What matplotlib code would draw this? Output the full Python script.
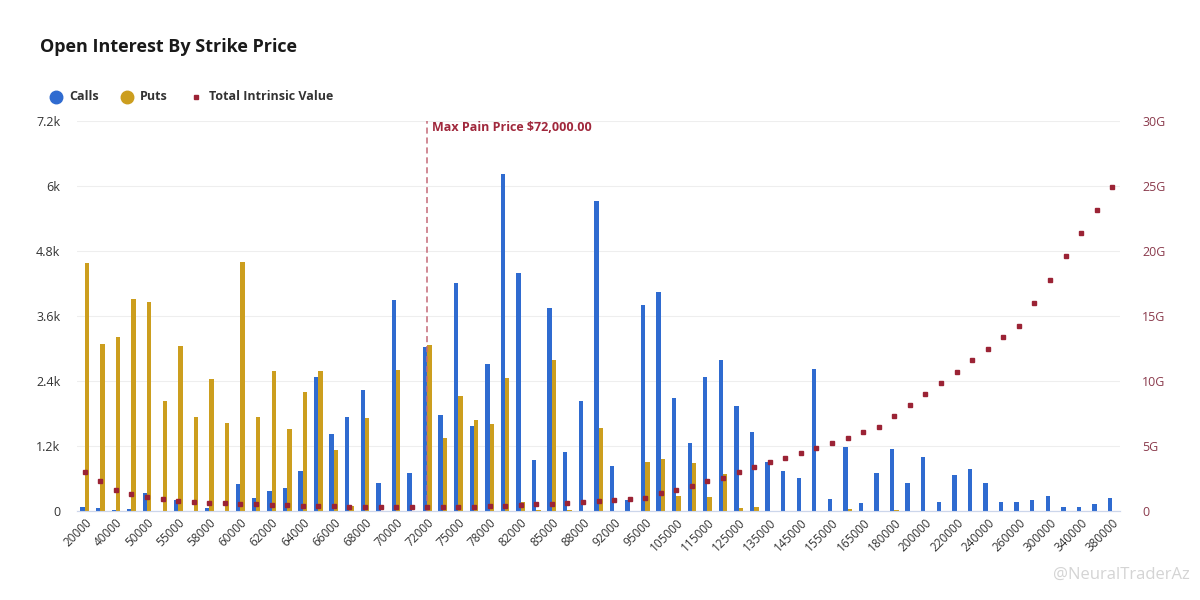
import matplotlib
matplotlib.use("Agg")
import matplotlib.pyplot as plt
from matplotlib.lines import Line2D
import numpy as np

plt.rcParams['font.family'] = ['Open Sans', 'DejaVu Sans']

strikes = ["20000", "30000", "40000", "45000", "50000", "52000", "55000", "56000", "58000", "59000",
           "60000", "61000", "62000", "63000", "64000", "65000", "66000", "67000", "68000", "69000",
           "70000", "71000", "72000", "74000", "75000", "76000", "78000", "80000", "82000", "84000",
           "85000", "86000", "88000", "90000", "92000", "94000", "95000", "100000", "105000", "110000",
           "115000", "120000", "125000", "130000", "135000", "140000", "145000", "150000", "155000", "160000",
           "165000", "170000", "180000", "190000", "200000", "210000", "220000", "230000", "240000", "250000",
           "260000", "280000", "300000", "320000", "340000", "360000", "380000"]

calls = [70, 60, 20, 30, 330, 0, 210, 0, 50, 0,
         500, 240, 370, 420, 740, 2480, 1420, 1740, 2230, 520,
         3900, 700, 3030, 1770, 4210, 1570, 2720, 6220, 4390, 950,
         3750, 1090, 2030, 5730, 830, 200, 3810, 4050, 2090, 1260,
         2480, 2790, 1930, 1460, 910, 740, 610, 2620, 230, 1180,
         150, 710, 1140, 520, 1000, 160, 660, 770, 520, 160,
         160, 200, 270, 80, 80, 130, 240]

puts = [4570, 3080, 3210, 3910, 3860, 2030, 3050, 1730, 2440, 1620,
        4600, 1730, 2580, 1510, 2200, 2580, 1130, 100, 1720, 0,
        2600, 0, 3060, 1350, 2120, 1680, 1600, 2460, 170, 20,
        2790, 20, 0, 1530, 0, 0, 900, 960, 280, 890,
        260, 680, 50, 70, 0, 0, 0, 0, 0, 30,
        0, 0, 20, 0, 0, 0, 0, 0, 0, 0,
        0, 0, 0, 0, 0, 0, 0]

intrinsic_g = [3.02, 2.33, 1.64, 1.31, 1.10, 0.95, 0.79, 0.69, 0.62, 0.60,
               0.54, 0.52, 0.45, 0.43, 0.41, 0.39, 0.37, 0.34, 0.32, 0.31,
               0.30, 0.30, 0.30, 0.31, 0.32, 0.33, 0.36, 0.38, 0.44, 0.52,
               0.56, 0.62, 0.72, 0.80, 0.88, 0.95, 1.03, 1.36, 1.64, 1.95,
               2.28, 2.56, 2.97, 3.36, 3.74, 4.10, 4.49, 4.87, 5.26, 5.65,
               6.10, 6.48, 7.31, 8.18, 9.00, 9.87, 10.70, 11.64, 12.50, 13.40,
               14.26, 16.00, 17.80, 19.60, 21.40, 23.15, 24.95]

max_pain_strike = "72000"
left_ticks = [0, 1200, 2400, 3600, 4800, 6000, 7200]
left_tick_labels = ["0", "1.2k", "2.4k", "3.6k", "4.8k", "6k", "7.2k"]
right_ticks = [0, 5, 10, 15, 20, 25, 30]
right_tick_labels = ["0", "5G", "10G", "15G", "20G", "25G", "30G"]

CALL_C = "#2f6bd0"
PUT_C = "#cc9e1e"
IV_C = "#9b2335"
TXT = "#333333"

fig = plt.figure(figsize=(12, 6), dpi=100)
ax = fig.add_axes([77 / 1200, 89 / 600, (1120 - 77) / 1200, 390 / 600])
ax2 = ax.twinx()

x = np.arange(len(strikes))
w = 0.28
ax.bar(x - 0.14, calls, width=w, color=CALL_C, zorder=3)
ax.bar(x + 0.14, puts, width=w, color=PUT_C, zorder=3)
ax2.plot(x, intrinsic_g, linestyle="none", marker="s", markersize=3.0,
         color=IV_C, zorder=4)

ax.set_xlim(-0.5, len(strikes) - 0.5)
ax.set_ylim(0, 7200)
ax2.set_ylim(0, 30)

ax.set_yticks(left_ticks)
ax.set_yticklabels(left_tick_labels, color=TXT, fontsize=9)
ax2.set_yticks(right_ticks)
ax2.set_yticklabels(right_tick_labels, color="#8a3a4c", fontsize=9)

ax.set_xticks(x[::2])
ax.set_xticklabels(strikes[::2], rotation=45, ha="right", rotation_mode="anchor",
                   fontsize=8.5, color=TXT)

ax.grid(axis="y", color="#eeeeee", linewidth=0.8, zorder=0)
ax.set_axisbelow(True)
for a in (ax, ax2):
    for s in ("top", "left", "right"):
        a.spines[s].set_visible(False)
    a.spines["bottom"].set_color("#ccd6eb")
    a.tick_params(length=0)
ax.tick_params(axis="y", pad=12)
ax.tick_params(axis="x", pad=4)
ax2.tick_params(axis="y", pad=16)

mp = strikes.index(max_pain_strike)
ax.axvline(mp, color="#c46a78", linestyle=(0, (4, 2.5)), linewidth=1.1, zorder=5)
ax.text(mp + 0.3, 7080, "Max Pain Price $72,000.00", color="#a0283c", fontsize=9,
        fontweight="bold", va="center", ha="left")

fig.text(40 / 1200, 1 - 47 / 600, "Open Interest By Strike Price", fontsize=13,
         fontweight="bold", color="#1a1a1a", va="center", ha="left")

ly = 1 - 97 / 600
fig.add_artist(Line2D([56 / 1200], [ly], marker="o", markersize=9, color=CALL_C,
                      linestyle="none", transform=fig.transFigure))
fig.text(69 / 1200, ly, "Calls", fontsize=9, fontweight="bold", color=TXT, va="center")
fig.add_artist(Line2D([127 / 1200], [ly], marker="o", markersize=9, color=PUT_C,
                      linestyle="none", transform=fig.transFigure))
fig.text(140 / 1200, ly, "Puts", fontsize=9, fontweight="bold", color=TXT, va="center")
fig.add_artist(Line2D([196 / 1200], [ly], marker="s", markersize=3, color=IV_C,
                      linestyle="none", transform=fig.transFigure))
fig.text(209 / 1200, ly, "Total Intrinsic Value", fontsize=9, fontweight="bold",
         color=TXT, va="center")

fig.text(1190 / 1200, 1 - 575 / 600, "@NeuralTraderAz", fontsize=12, color="#d4d4d4",
         ha="right", va="center")

fig.savefig("out.png", dpi=100, facecolor="white")
